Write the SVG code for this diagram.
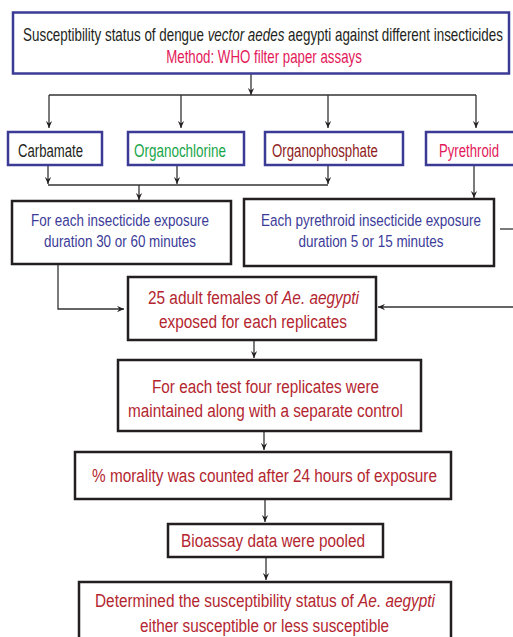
<svg xmlns="http://www.w3.org/2000/svg" width="513" height="637" viewBox="0 0 513 637">
<style>
text{font-family:"Liberation Sans",Arial,sans-serif;text-anchor:middle}
.bb{fill:#fff;stroke:#3b3b96;stroke-width:2.5}
.kb{fill:#fff;stroke:#231f20;stroke-width:2.5}
.c{fill:none;stroke:#333;stroke-width:1.3}
.t{font-size:18px}
.k{font-size:17.5px}
.b{font-size:17px;fill:#3b3b98}
.r{font-size:19px;fill:#b3262f}
.blk{fill:#231f20}
.pink{fill:#e3195a}
.grn{fill:#18a64a}
.drd{fill:#8e1b22}
</style>
<defs>
<marker id="ah" viewBox="0 0 10 10" refX="10" refY="5" markerWidth="7" markerHeight="7" markerUnits="userSpaceOnUse" orient="auto">
<path d="M0,0.5 L10,5 L0,9.5 L3.5,5 z" fill="#231f20"/>
</marker>
</defs>
<g id="connectors">
<path class="c" d="M251 73 V95" marker-end="url(#ah)"/>
<path class="c" d="M49 95 H476"/>
<path class="c" d="M49 95 V128" marker-end="url(#ah)"/>
<path class="c" d="M181 95 V128" marker-end="url(#ah)"/>
<path class="c" d="M328 95 V128" marker-end="url(#ah)"/>
<path class="c" d="M476 95 V128" marker-end="url(#ah)"/>
<path class="c" d="M48 166 V184" marker-end="url(#ah)"/>
<path class="c" d="M177 166 V184" marker-end="url(#ah)"/>
<path class="c" d="M328 166 V184" marker-end="url(#ah)"/>
<path class="c" d="M48 185 H328" stroke-width="2"/>
<path class="c" d="M139 185 V200" marker-end="url(#ah)"/>
<path class="c" d="M474 166 V198" marker-end="url(#ah)"/>
<path class="c" d="M58 265 V309 H124" marker-end="url(#ah)"/>
<path class="c" d="M513 307 H378" marker-end="url(#ah)"/>
<path class="c" d="M500 229 H513"/>
<path class="c" d="M254 341 V358" marker-end="url(#ah)"/>
<path class="c" d="M264 432 V450" marker-end="url(#ah)"/>
<path class="c" d="M265 500 V522" marker-end="url(#ah)"/>
<path class="c" d="M266 558 V580" marker-end="url(#ah)"/>
</g>
<g id="title">
<rect class="bb" x="13" y="12.5" width="496" height="61"/>
<text class="t blk" transform="translate(263 40.7) scale(0.744 1)" textLength="645" lengthAdjust="spacingAndGlyphs">Susceptibility status of dengue <tspan font-style="italic">vector aedes</tspan> aegypti against different insecticides</text>
<text class="t pink" transform="translate(264 62.5) scale(0.744 1)" textLength="263" lengthAdjust="spacingAndGlyphs">Method: WHO filter paper assays</text>
</g>
<g id="carbamate">
<rect class="bb" x="8" y="132" width="94" height="33"/>
<text class="k blk" transform="translate(50.5 156.5) scale(0.757 1)" textLength="86" lengthAdjust="spacingAndGlyphs">Carbamate</text>
</g>
<g id="organochlorine">
<rect class="bb" x="128" y="132" width="116" height="33"/>
<text class="k grn" transform="translate(180 156.5) scale(0.757 1)" textLength="121.5" lengthAdjust="spacingAndGlyphs">Organochlorine</text>
</g>
<g id="organophosphate">
<rect class="bb" x="265" y="132" width="138" height="33"/>
<text class="k drd" transform="translate(325 156.5) scale(0.757 1)" textLength="140" lengthAdjust="spacingAndGlyphs">Organophosphate</text>
</g>
<g id="pyrethroid">
<rect class="bb" x="426" y="132" width="100" height="33"/>
<text class="k pink" transform="translate(469 156.5) scale(0.757 1)" textLength="79.3" lengthAdjust="spacingAndGlyphs">Pyrethroid</text>
</g>
<g id="exposure-general">
<rect class="kb" x="12" y="201" width="219" height="63"/>
<text class="b" transform="translate(120 225.5) scale(0.79 1)" textLength="225.3" lengthAdjust="spacingAndGlyphs">For each insecticide exposure</text>
<text class="b" transform="translate(120 247) scale(0.79 1)" textLength="192.4" lengthAdjust="spacingAndGlyphs">duration 30 or 60 minutes</text>
</g>
<g id="exposure-pyrethroid">
<rect class="kb" x="244" y="199" width="250" height="67"/>
<text class="b" transform="translate(371 225.5) scale(0.79 1)" textLength="278.5" lengthAdjust="spacingAndGlyphs">Each pyrethroid insecticide exposure</text>
<text class="b" transform="translate(371 247) scale(0.79 1)" textLength="183.5" lengthAdjust="spacingAndGlyphs">duration 5 or 15 minutes</text>
</g>
<g id="adults">
<rect class="kb" x="128" y="277" width="248" height="63"/>
<text class="r" transform="translate(253.5 304) scale(0.807 1)" textLength="261.5" lengthAdjust="spacingAndGlyphs">25 adult females of <tspan font-style="italic">Ae. aegypti</tspan></text>
<text class="r" transform="translate(253 328) scale(0.807 1)" textLength="233" lengthAdjust="spacingAndGlyphs">exposed for each replicates</text>
</g>
<g id="replicates">
<rect class="kb" x="118" y="360" width="303" height="71"/>
<text class="r" transform="translate(265.5 393) scale(0.807 1)" textLength="281.3" lengthAdjust="spacingAndGlyphs">For each test four replicates were</text>
<text class="r" transform="translate(265.5 417) scale(0.807 1)" textLength="340.8" lengthAdjust="spacingAndGlyphs">maintained along with a separate control</text>
</g>
<g id="mortality">
<rect class="kb" x="75" y="452" width="376" height="47"/>
<text class="r" transform="translate(264.5 482) scale(0.807 1)" textLength="427.5" lengthAdjust="spacingAndGlyphs">% morality was counted after 24 hours of exposure</text>
</g>
<g id="pooled">
<rect class="kb" x="168" y="524" width="215" height="33"/>
<text class="r" transform="translate(273 547) scale(0.807 1)" textLength="228" lengthAdjust="spacingAndGlyphs">Bioassay data were pooled</text>
</g>
<g id="determined">
<rect class="kb" x="79" y="582" width="372" height="70"/>
<text class="r" transform="translate(265 607) scale(0.807 1)" textLength="421.3" lengthAdjust="spacingAndGlyphs">Determined the susceptibility status of <tspan font-style="italic">Ae. aegypti</tspan></text>
<text class="r" transform="translate(264.5 632) scale(0.807 1)" textLength="308.6" lengthAdjust="spacingAndGlyphs">either susceptible or less susceptible</text>
</g>
</svg>
